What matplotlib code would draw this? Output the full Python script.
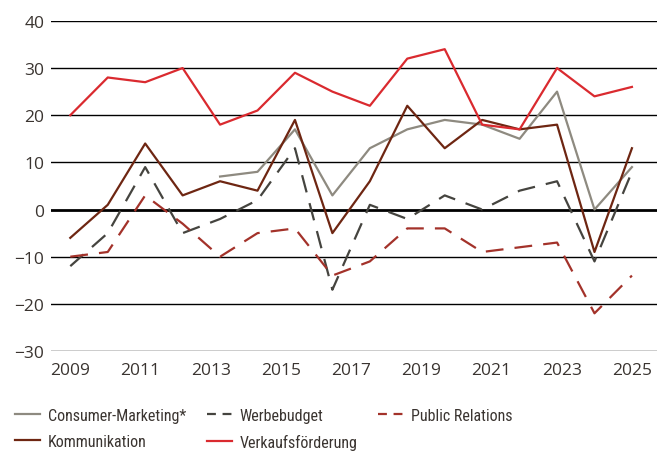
import matplotlib
matplotlib.use('Agg')
import matplotlib.pyplot as plt
import numpy as np

# Daten (Saldo in Prozentpunkten), 16 Beobachtungen
year_labels = ['2009', '2011', '2013', '2015', '2017', '2019', '2021', '2023', '2025']

consumer_marketing = [np.nan, np.nan, np.nan, np.nan, 7, 8, 17, 3, 13, 17, 19, 18, 15, 25, 0, 9]
werbebudget = [-12, -5, 9, -5, -2, 2, 13, -17, 1, -2, 3, 0, 4, 6, -11, 8]
public_relations = [-10, -9, 3, -3, -10, -5, -4, -14, -11, -4, -4, -9, -8, -7, -22, -14]
kommunikation = [-6, 1, 14, 3, 6, 4, 19, -5, 6, 22, 13, 19, 17, 18, -9, 13]
verkaufsfoerderung = [20, 28, 27, 30, 18, 21, 29, 25, 22, 32, 34, 18, 17, 30, 24, 26]

text_color = '#3a3430'
plt.rcParams['font.family'] = ['Open Sans', 'DejaVu Sans']

fig = plt.figure(figsize=(6.65, 4.56), dpi=100)
ax = fig.add_axes([0.077, 0.228, 0.911, 0.724])

x = np.arange(len(werbebudget))

# Gitterlinien
for yv in range(-30, 41, 10):
    ax.axhline(yv, color='black', linewidth=2.0 if yv == 0 else 1.0, zorder=1)

lw = 1.6
l_cm, = ax.plot(x, consumer_marketing, color='#8e8a80', lw=lw, label='Consumer-Marketing*', zorder=3)
l_wb, = ax.plot(x, werbebudget, color='#45443f', lw=lw, dashes=(8, 5), label='Werbebudget', zorder=3)
l_pr, = ax.plot(x, public_relations, color='#a3322a', lw=lw, dashes=(8, 5), label='Public Relations', zorder=3)
l_ko, = ax.plot(x, kommunikation, color='#6e2612', lw=lw, label='Kommunikation', zorder=4)
l_vf, = ax.plot(x, verkaufsfoerderung, color='#da2a2f', lw=lw, label='Verkaufsförderung', zorder=4)

ax.set_ylim(-30, 40)
ax.set_xlim(-0.51, 15.67)
ax.set_yticks(range(-30, 41, 10))
ax.set_xticks(np.linspace(0, len(x) - 1, len(year_labels)))
ax.set_xticklabels(year_labels)
ax.tick_params(length=0, labelsize=12.5, colors=text_color)
ax.tick_params(axis='x', pad=8)
ax.tick_params(axis='y', pad=5)
for s in ax.spines.values():
    s.set_visible(False)

# Legende in schmaler Schrift
leg_handles = []
for h in [l_cm, l_ko, l_wb, l_vf, l_pr]:
    proxy, = ax.plot([], [], color=h.get_color(), lw=lw, label=h.get_label())
    if h.get_linestyle() != '-':
        proxy.set_dashes((4, 3))
    leg_handles.append(proxy)

fig.legend(handles=leg_handles, ncol=3, frameon=False,
           loc='upper left', bbox_to_anchor=(0.001, 0.135),
           prop={'family': ['Roboto Condensed', 'Roboto'], 'size': 11.5},
           labelcolor=text_color, handlelength=1.55, handletextpad=0.5,
           columnspacing=1.3, labelspacing=0.7)

fig.savefig('out.png', dpi=100)
